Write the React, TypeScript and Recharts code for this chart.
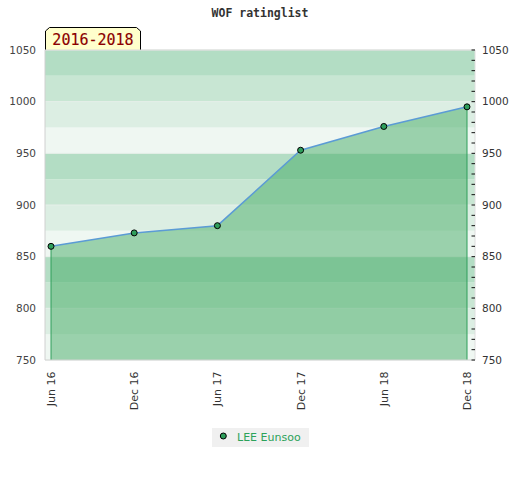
import React from 'react';
import {
  ComposedChart,
  Area,
  Line,
  XAxis,
  YAxis,
  CartesianGrid,
  ReferenceArea,
  ReferenceLine,
  Legend,
  Customized,
} from 'recharts';

const months = ['Jun 16', 'Dec 16', 'Jun 17', 'Dec 17', 'Jun 18', 'Dec 18'];
const ratings = [860, 873, 880, 953, 976, 995];
const majorTicks = [750, 800, 850, 900, 950, 1000, 1050];
const minorTicks = [
  750, 760, 770, 780, 790, 800, 810, 820, 830, 840, 850, 860, 870, 880, 890, 900,
  910, 920, 930, 940, 950, 960, 970, 980, 990, 1000, 1010, 1020, 1030, 1040, 1050,
];
const bandStarts = [750, 775, 800, 825, 850, 875, 900, 925, 950, 975, 1000, 1025];
const bandSize = 25;
const bandColors = ['#eff7f2', '#dceee3', '#c8e6d3', '#b3ddc4'];
const seriesName = 'LEE Eunsoo';
const title = 'WOF ratinglist';
const periodLabel = '2016-2018';

const data = months.map((m, i) => ({ month: m, rating: ratings[i] }));

const RightTick = (props: any) => {
  const { x, y, payload } = props;
  const v = payload.value;
  return (
    <g>
      <line x1={x - 3.5} x2={x} y1={y} y2={y} stroke="#111" strokeWidth={1} />
      {v % 50 === 0 ? (
        <text
          x={x + 7}
          y={y}
          dy="0.36em"
          textAnchor="start"
          fontFamily="DejaVu Sans"
          fontSize={10.5}
          fill="#333"
        >
          {v}
        </text>
      ) : null}
    </g>
  );
};

const BottomTick = (props: any) => {
  const { x, y, payload } = props;
  return (
    <g transform={`translate(${x},${y + 11.5})`}>
      <text
        transform="rotate(-90)"
        textAnchor="end"
        dy="0.36em"
        fontFamily="DejaVu Sans"
        fontSize={11}
        fill="#333"
      >
        {payload.value}
      </text>
    </g>
  );
};

const Decorations = () => (
  <g>
    <text
      x={260}
      y={17}
      textAnchor="middle"
      fontFamily="DejaVu Sans Mono"
      fontWeight="bold"
      fontSize={11.5}
      fill="#333"
    >
      {title}
    </text>
    <path
      d="M45.5,50 L45.5,31 L49.5,27.5 L136.5,27.5 L140.5,31 L140.5,50"
      fill="#ffffcc"
      stroke="#000"
      strokeWidth={1}
    />
    <text
      x={93}
      y={45}
      textAnchor="middle"
      fontFamily="DejaVu Sans Mono"
      fontSize={15}
      fill="#8b0000"
      stroke="#8b0000"
      strokeWidth={0.15}
    >
      {periodLabel}
    </text>
  </g>
);

const LegendContent = () => (
  <div
    style={{
      background: '#f0f0f0',
      width: 97,
      height: 19,
      display: 'flex',
      alignItems: 'center',
      fontFamily: 'DejaVu Sans',
      fontSize: 11,
      color: '#2ca25a',
      boxSizing: 'border-box',
    }}
  >
    <svg width={25} height={19} style={{ display: 'block' }}>
      <circle cx={11.3} cy={8} r={3} fill="#2e9e5b" stroke="#000" strokeWidth={1} />
    </svg>
    <span style={{ lineHeight: '19px' }}>{seriesName}</span>
  </div>
);

export default function App() {
  return (
    <div style={{ position: 'absolute', left: 0, top: 0, width: 520, height: 480, background: '#fff' }}>
      <ComposedChart
        width={520}
        height={480}
        data={data}
        margin={{ top: 50, right: 0, bottom: 0, left: 0 }}
      >
        <XAxis xAxisId="full" type="number" domain={[0, 1]} allowDataOverflow hide />
        {bandStarts.map((s, i) => (
          <ReferenceArea
            key={s}
            xAxisId="full"
            yAxisId="left"
            y1={s}
            y2={s + bandSize}
            fill={bandColors[i % 4]}
            fillOpacity={1}
            stroke="none"
            ifOverflow="visible"
            zIndex={-150}
          />
        ))}
        <CartesianGrid
          xAxisId="full"
          yAxisId="left"
          vertical={false}
          horizontal
          stroke="#e6efe9"
          strokeWidth={1}
        />
        <XAxis
          dataKey="month"
          type="category"
          padding={{ left: 6, right: 8 }}
          height={120}
          tickLine={false}
          tickSize={0}
          tickMargin={0}
          axisLine={{ stroke: '#d4d4d4' }}
          tick={<BottomTick />}
          interval={0}
        />
        <YAxis
          yAxisId="left"
          orientation="left"
          width={45}
          domain={[750, 1050]}
          ticks={majorTicks}
          type="number"
          tickLine={false}
          tickSize={0}
          tickMargin={9}
          axisLine={{ stroke: '#d0d0d0' }}
          tick={{ fontFamily: 'DejaVu Sans', fontSize: 10.5, fill: '#444' }}
          allowDataOverflow
        />
        <YAxis
          yAxisId="right"
          orientation="right"
          width={45}
          domain={[750, 1050]}
          ticks={minorTicks}
          type="number"
          tickLine={false}
          tickSize={0}
          tickMargin={0}
          axisLine={{ stroke: '#dedede' }}
          tick={<RightTick />}
          interval={0}
          allowDataOverflow
        />
        <ReferenceLine xAxisId="full" yAxisId="left" y={1050} stroke="#d8d8d8" strokeWidth={1} />
        <Area
          yAxisId="left"
          dataKey="rating"
          type="linear"
          fill="#45ab66"
          fillOpacity={0.5}
          stroke="none"
          isAnimationActive={false}
          legendType="none"
        />
        <ReferenceLine
          yAxisId="left"
          segment={[
            { x: months[0], y: 750 },
            { x: months[0], y: ratings[0] },
          ]}
          stroke="#2e9e5b"
          strokeWidth={1}
        />
        <ReferenceLine
          yAxisId="left"
          segment={[
            { x: months[months.length - 1], y: 750 },
            { x: months[months.length - 1], y: ratings[ratings.length - 1] },
          ]}
          stroke="#2e9e5b"
          strokeWidth={1}
        />
        <Line
          yAxisId="left"
          dataKey="rating"
          name={seriesName}
          type="linear"
          stroke="#5b9bd5"
          strokeWidth={1.5}
          dot={{ r: 3, fill: '#2e9e5b', stroke: '#000', strokeWidth: 1 }}
          activeDot={false}
          isAnimationActive={false}
        />
        <Legend
          layout="horizontal"
          verticalAlign="middle"
          align="center"
          content={<LegendContent />}
          wrapperStyle={{ top: 428, left: 212, width: 97, height: 19 }}
        />
        <Customized component={Decorations} />
      </ComposedChart>
    </div>
  );
}
